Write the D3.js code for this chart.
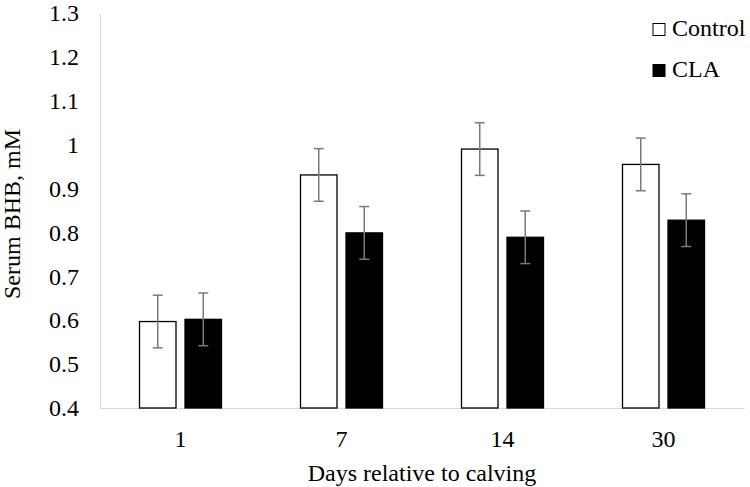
<!DOCTYPE html>
<html>
<head>
<meta charset="utf-8">
<script src="https://cdn.jsdelivr.net/npm/d3@7"></script>
<style>
  body { margin: 0; background: #fff; }
</style>
</head>
<body>
<div id="chart"></div>
<script>
// chart data
var days = ["1", "7", "14", "30"];
var series = ["Control", "CLA"];
var controlMean = [0.597, 0.931, 0.990, 0.955];
var controlSE = [0.060, 0.060, 0.060, 0.060];
var claMean = [0.602, 0.799, 0.789, 0.828];
var claSE = [0.060, 0.060, 0.060, 0.060];
var yTicks = [0.4, 0.5, 0.6, 0.7, 0.8, 0.9, 1.0, 1.1, 1.2, 1.3];

var serif = "'Liberation Serif', 'Times New Roman', serif";
var width = 750, height = 487;
var margin = { top: 13, right: 6, bottom: 79, left: 100 };

var svg = d3.select("#chart").append("svg")
    .attr("width", width)
    .attr("height", height);

// scales
var x0 = d3.scaleBand()
    .domain(days)
    .range([margin.left, width - margin.right])
    .padding(0);

var x1 = d3.scaleBand()
    .domain(series)
    .range([x0.bandwidth() / 2 - 41, x0.bandwidth() / 2 + 41])
    .paddingInner(0.198);

var y = d3.scaleLinear()
    .domain([0.4, 1.3])
    .range([height - margin.bottom, margin.top]);

var colors = { Control: "#ffffff", CLA: "#000000" };

// rows for bars, built from the arrays above
var rows = days.map(function (d, i) {
    return {
        day: d,
        values: [
            { key: "Control", mean: controlMean[i], se: controlSE[i] },
            { key: "CLA", mean: claMean[i], se: claSE[i] }
        ]
    };
});

// y axis
var yAxis = svg.append("g")
    .attr("transform", "translate(" + margin.left + ",0)")
    .call(d3.axisLeft(y).tickValues(yTicks).tickFormat(d3.format("~g"))
        .tickSize(0).tickSizeOuter(0).tickPadding(21));
yAxis.attr("font-family", null).attr("font-size", null);
yAxis.select(".domain").attr("stroke", "#d9d9d9");
yAxis.selectAll("text")
    .style("font-family", serif)
    .style("font-size", "24px")
    .attr("fill", "#000");

// x axis
var xAxis = svg.append("g")
    .attr("transform", "translate(0," + y(0.4) + ")")
    .call(d3.axisBottom(x0).tickSize(0).tickSizeOuter(0).tickPadding(22));
xAxis.attr("font-family", null).attr("font-size", null);
xAxis.select(".domain").attr("stroke", "#d9d9d9");
xAxis.selectAll("text")
    .style("font-family", serif)
    .style("font-size", "24px")
    .attr("fill", "#000");

// bars
var groups = svg.selectAll(".day")
    .data(rows)
    .enter().append("g")
    .attr("class", "day")
    .attr("transform", function (d) { return "translate(" + x0(d.day) + ",0)"; });

groups.selectAll("rect")
    .data(function (d) { return d.values; })
    .enter().append("rect")
    .attr("x", function (d) { return x1(d.key); })
    .attr("y", function (d) { return y(d.mean); })
    .attr("width", x1.bandwidth())
    .attr("height", function (d) { return y(0.4) - y(d.mean); })
    .attr("fill", function (d) { return colors[d.key]; })
    .attr("stroke", "#000")
    .attr("stroke-width", 1.3);

// error bars
var err = groups.selectAll(".err")
    .data(function (d) { return d.values; })
    .enter().append("g")
    .attr("class", "err")
    .attr("stroke", "#7a7a7a")
    .attr("stroke-width", 1.5);

err.append("line")
    .attr("x1", function (d) { return x1(d.key) + x1.bandwidth() / 2; })
    .attr("x2", function (d) { return x1(d.key) + x1.bandwidth() / 2; })
    .attr("y1", function (d) { return y(d.mean + d.se); })
    .attr("y2", function (d) { return y(d.mean - d.se); });

[1, -1].forEach(function (s) {
    err.append("line")
        .attr("x1", function (d) { return x1(d.key) + x1.bandwidth() / 2 - 5; })
        .attr("x2", function (d) { return x1(d.key) + x1.bandwidth() / 2 + 5; })
        .attr("y1", function (d) { return y(d.mean + s * d.se); })
        .attr("y2", function (d) { return y(d.mean + s * d.se); });
});

// axis titles
svg.append("text")
    .attr("x", (x0.range()[0] + x0.range()[1]) / 2)
    .attr("y", 481)
    .attr("text-anchor", "middle")
    .style("font-family", serif)
    .style("font-size", "24px")
    .text("Days relative to calving");

svg.append("text")
    .attr("transform", "translate(20," + 214 + ") rotate(-90)")
    .attr("text-anchor", "middle")
    .style("font-family", serif)
    .style("font-size", "24px")
    .text("Serum BHB, mM");

// legend
var legend = svg.selectAll(".legend")
    .data(series)
    .enter().append("g")
    .attr("class", "legend")
    .attr("transform", function (d, i) { return "translate(653," + (23.5 + i * 41) + ")"; });

legend.append("rect")
    .attr("width", 12)
    .attr("height", 12)
    .attr("fill", function (d) { return colors[d]; })
    .attr("stroke", "#000")
    .attr("stroke-width", 1);

legend.append("text")
    .attr("x", 19)
    .attr("y", 12.5)
    .style("font-family", serif)
    .style("font-size", "24px")
    .text(function (d) { return d; });
</script>
</body>
</html>
